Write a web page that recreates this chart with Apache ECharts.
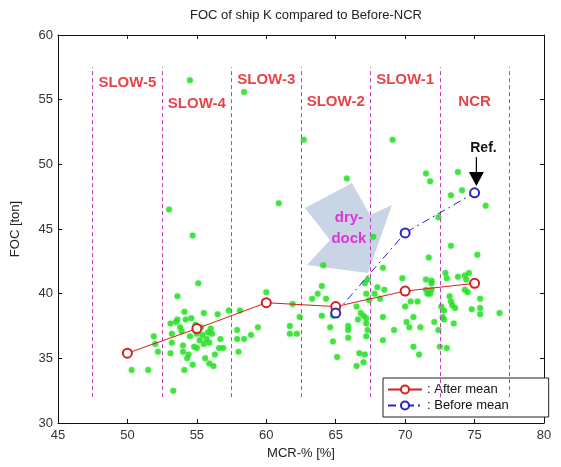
<!DOCTYPE html>
<html><head><meta charset="utf-8">
<script src="https://cdn.jsdelivr.net/npm/echarts@6/dist/echarts.min.js"></script>
<style>html,body{margin:0;padding:0;background:#fff}#c{width:561px;height:467px}</style>
</head><body><div id="c"></div>
<script>
// ---- data ----
const afterMean = [[50,35.4],[55,37.3],[60,39.3],[65,39.0],[70,40.2],[75,40.8]];
const beforeMean = [[65,38.5],[70,44.7],[75,47.8]];
const zoneBounds = [47.5,52.5,57.5,62.5,67.5,72.5,77.5];
const zoneLabels = [[50,56.3,'SLOW-5'],[55,54.7,'SLOW-4'],[60,56.5,'SLOW-3'],[65,54.8,'SLOW-2'],[70,56.5,'SLOW-1'],[75,54.8,'NCR']];
const samplesSlow5 = [[50.3,34.1],[51.5,34.1],[51.9,36.7],[52.0,36.1],[52.2,35.5]];
const samplesSlow4 = [[53.0,46.5],[54.5,56.5],[54.7,44.5],[55.1,40.8],[53.6,39.8],[54.1,38.6],[53.6,38.0],[53.1,37.7],[54.2,38.0],[54.6,38.1],[53.5,37.8],[55.5,38.5],[56.5,38.4],[57.3,38.7],[53.2,36.9],[53.2,36.2],[53.1,35.4],[53.9,37.1],[54.5,36.7],[55.2,36.4],[55.5,36.1],[56.1,36.9],[55.7,36.5],[55.0,35.8],[54.0,36.0],[54.0,35.5],[54.4,35.3],[54.3,35.0],[54.7,34.5],[54.1,34.1],[55.6,35.0],[55.9,34.6],[56.2,34.4],[56.3,35.3],[56.6,35.8],[56.9,35.8],[56.7,36.5],[53.3,32.5],[55.8,37.0],[55.3,37.4],[54.9,37.6],[56.0,37.3],[55.0,36.9],[55.9,36.2],[53.8,37.4],[54.8,35.9],[55.4,36.8]];
const samplesSlow3 = [[57.9,37.2],[57.9,36.5],[58.0,35.5],[58.1,38.7],[58.4,36.5],[58.9,36.8],[59.4,37.4],[60.0,40.1],[60.9,47.0],[58.4,55.6],[61.7,37.5],[61.7,36.9],[62.2,36.9],[62.4,38.2],[61.9,39.2]];
const samplesSlow2 = [[62.7,51.9],[65.8,48.9],[64.1,42.2],[64.0,40.6],[63.7,40.0],[63.3,39.6],[64.3,39.6],[64.0,38.3],[64.8,38.3],[64.6,37.4],[64.8,36.3],[65.1,35.1],[65.9,37.5],[65.9,37.2],[65.9,36.6],[66.5,39.0],[66.6,38.0],[66.8,38.5],[67.1,40.8],[67.3,41.1],[67.2,40.0],[67.0,38.3],[67.2,38.1],[67.2,37.7],[67.3,37.2],[67.2,36.7],[66.7,35.4],[67.1,35.3],[67.0,34.7],[66.5,34.4],[67.4,39.5],[67.7,44.4]];
const samplesSlow1 = [[67.8,40.0],[68.0,40.5],[68.4,42.0],[69.8,41.2],[71.5,41.1],[71.9,41.0],[71.9,40.8],[71.9,40.3],[71.8,40.0],[71.5,40.3],[71.6,40.0],[70.9,39.4],[70.4,39.4],[70.0,39.0],[68.4,38.2],[68.2,39.6],[70.6,38.2],[70.1,37.8],[70.3,37.4],[69.2,37.2],[71.1,37.4],[68.4,36.4],[70.6,35.9],[71.0,35.3],[72.1,37.8],[72.4,37.2],[72.5,35.9],[71.7,42.8],[69.1,51.9],[71.5,49.3],[71.8,48.7],[72.4,45.9],[68.5,40.3]];
const samplesNcr = [[73.3,43.7],[75.2,43.0],[72.9,41.6],[73.0,41.2],[73.8,41.3],[74.3,41.4],[74.6,41.6],[74.4,41.1],[74.3,40.3],[74.5,40.1],[75.4,39.6],[74.8,38.8],[75.4,38.9],[75.4,38.4],[76.8,38.5],[73.2,39.8],[73.3,39.4],[73.4,39.1],[73.6,38.9],[72.6,39.0],[72.8,38.7],[72.7,38.2],[72.8,38.0],[73.5,37.7],[73.0,35.8],[73.8,49.4],[74.1,48.0],[73.3,47.6],[75.8,46.8]];
const samples = [].concat(samplesSlow5, samplesSlow4, samplesSlow3, samplesSlow2, samplesSlow1, samplesNcr);

const FONT = 'Liberation Sans, Arial, sans-serif';
const chart = echarts.init(document.getElementById('c'), null, {renderer:'canvas'});
const axisCommon = {
  axisLine:{show:true, onZero:false, lineStyle:{color:'#111', width:1}},
  axisTick:{show:true, inside:true, length:4, lineStyle:{color:'#111'}},
  splitLine:{show:false}
};
chart.setOption({
  animation:false,
  backgroundColor:'#fff',
  title:{text:'FOC of ship K compared to Before-NCR', left:301, top:4, textAlign:'center',
    textStyle:{fontFamily:FONT, fontSize:13, fontWeight:'normal', color:'#222'}},
  grid:{left:58, right:17, top:35, bottom:44},
  legend:{data:['After mean','Before mean'], orient:'vertical', left:383, top:378,
    padding:[5,40,5,4], itemGap:3, itemWidth:34, itemHeight:10,
    borderColor:'#222', borderWidth:1, backgroundColor:'#fff', formatter:': {name}',
    textStyle:{fontFamily:FONT, fontSize:13, color:'#111'}},
  xAxis:[
    Object.assign({type:'value', min:45, max:80, interval:5, position:'bottom',
      name:'MCR-% [%]', nameLocation:'middle', nameGap:22,
      nameTextStyle:{fontFamily:FONT, fontSize:13, color:'#222'},
      axisLabel:{fontFamily:FONT, fontSize:13, color:'#333', margin:6}}, axisCommon),
    Object.assign({type:'value', min:45, max:80, interval:5, position:'top',
      axisLabel:{show:false}}, axisCommon)
  ],
  yAxis:[
    Object.assign({type:'value', min:30, max:60, interval:5, position:'left',
      name:'FOC [ton]', nameLocation:'middle', nameGap:36,
      nameTextStyle:{fontFamily:FONT, fontSize:13, color:'#222'},
      axisLabel:{fontFamily:FONT, fontSize:13, color:'#333', margin:5}}, axisCommon),
    Object.assign({type:'value', min:30, max:60, interval:5, position:'right',
      axisLabel:{show:false}}, axisCommon)
  ],
  series:[
    {type:'scatter', name:'samples', data:samples, symbolSize:6, z:3,
      itemStyle:{color:'#22dd22', shadowBlur:3, shadowColor:'rgba(60,230,60,0.5)'},
      markLine:{silent:true, symbol:'none', label:{show:false},
        lineStyle:{color:'#c23cc2', type:[4,3], width:1},
        data: zoneBounds.map(b => [{coord:[b,32]},{coord:[b,57.5]}])}},
    {type:'line', name:'After mean', data:afterMean, z:5, symbol:'emptyCircle', symbolSize:9,
      color:'#d42020', lineStyle:{color:'#d42020', width:1},
      itemStyle:{color:'#d42020', borderColor:'#d42020', borderWidth:1}},
    {type:'line', name:'Before mean', data:beforeMean, z:5, symbol:'emptyCircle', symbolSize:9,
      color:'#2828c8', lineStyle:{color:'#2828c8', width:1, type:[8,4,2,4]},
      itemStyle:{color:'#2828c8', borderColor:'#2828c8', borderWidth:1}},
    {type:'scatter', name:'zones', data:zoneLabels, symbolSize:1, z:6, silent:true,
      itemStyle:{color:'rgba(0,0,0,0)'},
      label:{show:true, position:'inside', formatter:p => p.value[2],
        fontFamily:FONT, fontSize:15, fontWeight:'bold', color:'#e0141c'}}
  ]
});

function px(p){ return chart.convertToPixel({xAxisIndex:0, yAxisIndex:0}, p); }
const dryDockShape = [[62.79,46.62],[66.17,48.56],[67.47,46.08],[69.05,46.86],[67.32,41.60],[62.93,42.22],[64.59,44.15]];
const refX = 75.13;
const shaftTop = px([refX,50.57]), triTop = px([refX,49.41]), triTip = px([refX,48.32]);
const refText = px([75.64,51.26]);
const dryText = px([65.95,45.07]);
chart.setOption({
  graphic:[
    {type:'polygon', z:1, silent:true, shape:{points:dryDockShape.map(px)}, style:{fill:'#c9d5e4'}},
    {type:'text', z:10, silent:true, x:dryText[0], y:dryText[1],
      style:{text:'dry-\ndock', fill:'#dd33dd', font:'bold 15px '+FONT, align:'center', verticalAlign:'middle', lineHeight:21}},
    {type:'line', z:10, silent:true, shape:{x1:shaftTop[0], y1:shaftTop[1], x2:triTop[0], y2:triTop[1]+1}, style:{stroke:'#000', lineWidth:1.2}},
    {type:'polygon', z:10, silent:true, shape:{points:[[triTop[0]-7.5,triTop[1]],[triTop[0]+7.5,triTop[1]],[triTip[0],triTip[1]]]}, style:{fill:'#000'}},
    {type:'text', z:10, silent:true, x:refText[0], y:refText[1],
      style:{text:'Ref.', fill:'#111', font:'bold 14px '+FONT, align:'center', verticalAlign:'middle'}}
  ]
});
</script>
</body></html>
